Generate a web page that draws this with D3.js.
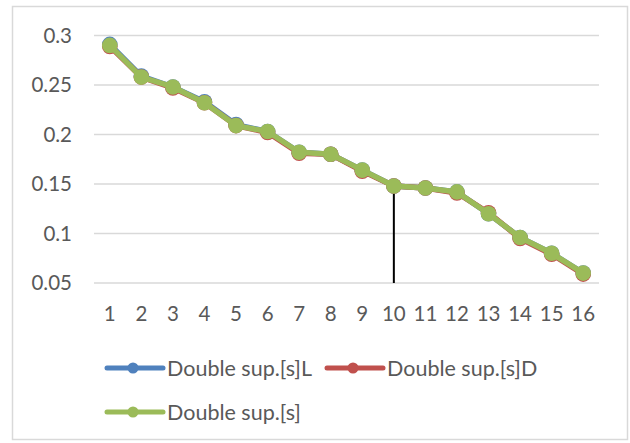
<!DOCTYPE html>
<html><head><meta charset="utf-8">
<script src="https://cdn.jsdelivr.net/npm/d3@7"></script>
<style>body{margin:0;background:#fff}svg{display:block}</style>
</head><body>
<svg id="c" width="630" height="443"></svg>
<script>
const categories = ["1","2","3","4","5","6","7","8","9","10","11","12","13","14","15","16"];
const seriesL = [0.291,0.259,0.248,0.233,0.210,0.203,0.182,0.180,0.164,0.148,0.146,0.142,0.120,0.096,0.080,0.060];
const seriesD = [0.289,0.258,0.247,0.232,0.209,0.202,0.181,0.180,0.163,0.148,0.146,0.141,0.121,0.095,0.079,0.059];
const seriesS = [0.290,0.258,0.248,0.232,0.209,0.203,0.182,0.180,0.164,0.148,0.146,0.142,0.120,0.096,0.080,0.060];
const seriesNames = ["Double sup.[s]L","Double sup.[s]D","Double sup.[s]"];
const seriesColors = ["#4f81bd","#c0504d","#9bbb59"];
const yTicks = [0.05,0.1,0.15,0.2,0.25,0.3];
const yTickLabels = ["0.05","0.1","0.15","0.2","0.25","0.3"];
const dropCategory = "10";

const svg = d3.select("#c");
const font = "Lato, 'Open Sans', sans-serif";
svg.append("rect").attr("x",12.5).attr("y",6.5).attr("width",615).attr("height",433)
  .attr("fill","#fff").attr("stroke","#d9d9d9").attr("stroke-width",1.5);

const x = d3.scaleBand().domain(categories).range([94,599]);
const y = d3.scaleLinear().domain([0.05,0.3]).range([283,35.5]);
const cx = c => x(c) + x.bandwidth()/2;

svg.append("g").selectAll("line").data(yTicks).join("line")
  .attr("x1",94).attr("x2",599).attr("y1",d=>y(d)).attr("y2",d=>y(d))
  .attr("stroke","#d9d9d9").attr("stroke-width",1.5);

svg.append("g").selectAll("text").data(yTicks).join("text")
  .attr("x",72).attr("y",d=>y(d)).attr("dy","0.36em").attr("text-anchor","end")
  .attr("font-family",font).attr("font-size",20.5).attr("fill","#595959")
  .text((d,i)=>yTickLabels[i]);

svg.append("g").selectAll("text").data(categories).join("text")
  .attr("x",d=>cx(d)).attr("y",314).attr("dy","0.36em").attr("text-anchor","middle")
  .attr("font-family",font).attr("font-size",20.5).attr("fill","#595959")
  .text(d=>d);

const di = categories.indexOf(dropCategory);
svg.append("line").attr("x1",cx(dropCategory)).attr("x2",cx(dropCategory))
  .attr("y1",y(seriesS[di])).attr("y2",y(0.05)).attr("stroke","#000").attr("stroke-width",2);

const allSeries = [seriesL, seriesD, seriesS];
const line = d3.line().x((d,i)=>cx(categories[i])).y(d=>y(d));
allSeries.forEach((s,k)=>{
  const g = svg.append("g");
  g.append("path").attr("d",line(s)).attr("fill","none").attr("stroke",seriesColors[k])
    .attr("stroke-width",5.5).attr("stroke-linejoin","round").attr("stroke-linecap","round");
  g.selectAll("circle").data(s).join("circle")
    .attr("cx",(d,i)=>cx(categories[i])).attr("cy",d=>y(d)).attr("r",7.8)
    .attr("fill",seriesColors[k]);
});

const legendPos = [[107,368],[327,368],[107,412]];
seriesNames.forEach((n,k)=>{
  const [lx,ly] = legendPos[k];
  const g = svg.append("g");
  g.append("line").attr("x1",lx).attr("x2",lx+56).attr("y1",ly).attr("y2",ly)
    .attr("stroke",seriesColors[k]).attr("stroke-width",5).attr("stroke-linecap","round");
  g.append("circle").attr("cx",lx+26).attr("cy",ly).attr("r",5.5).attr("fill",seriesColors[k]);
  g.append("text").attr("x",lx+60).attr("y",ly).attr("dy","0.36em")
    .attr("font-family",font).attr("font-size",21.5).attr("fill","#595959").text(n);
});
</script>
</body></html>
